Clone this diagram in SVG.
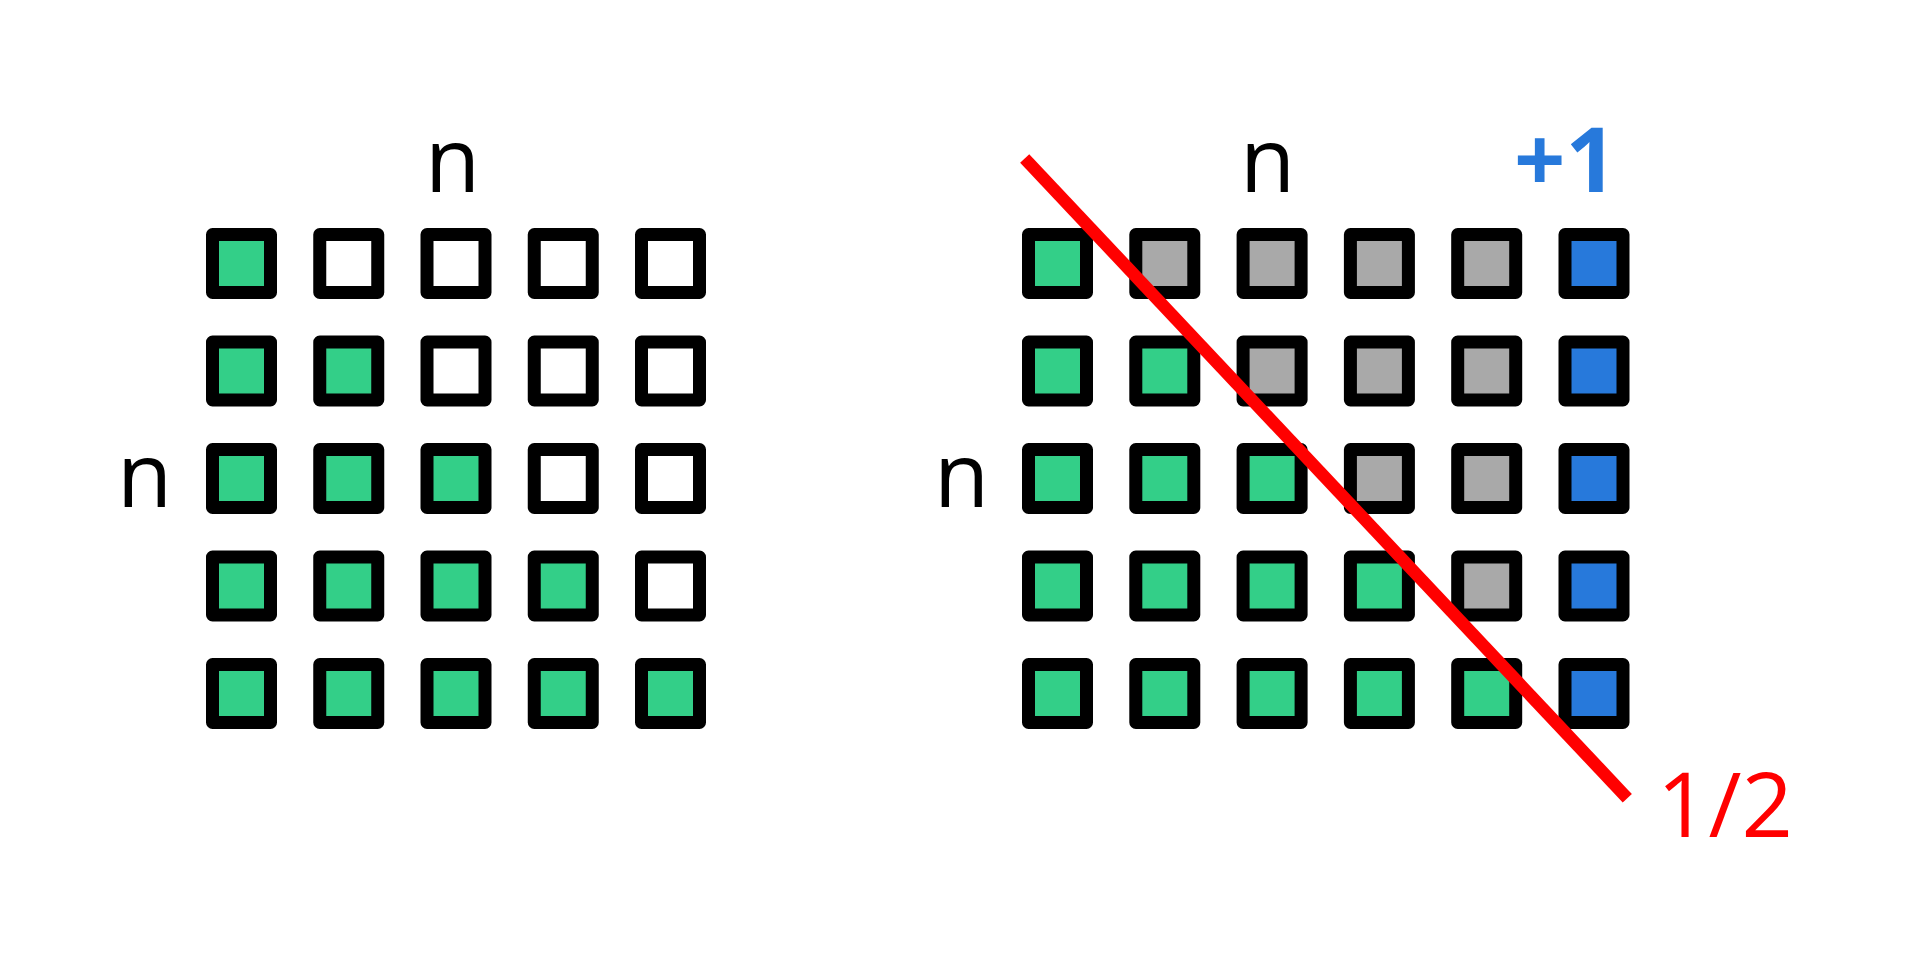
<svg xmlns="http://www.w3.org/2000/svg" width="1920" height="972" viewBox="0 0 1920 972">
<style>
.b{stroke:#000;stroke-width:13;stroke-linejoin:round}
.g{fill:#33cf88}.w{fill:#fff}.s{fill:#a9a9a9}.u{fill:#2779db}
.t{font-family:"Open Sans","DejaVu Sans",sans-serif;font-size:90px}
</style>
<rect width="1920" height="972" fill="#fff"/>
<g id="left-grid">
<g id="L00"><rect class="b g" x="212.5" y="234.5" width="58" height="58"/></g>
<g id="L01"><rect class="b w" x="319.75" y="234.5" width="58" height="58"/></g>
<g id="L02"><rect class="b w" x="427" y="234.5" width="58" height="58"/></g>
<g id="L03"><rect class="b w" x="534.25" y="234.5" width="58" height="58"/></g>
<g id="L04"><rect class="b w" x="641.5" y="234.5" width="58" height="58"/></g>
<g id="L10"><rect class="b g" x="212.5" y="342" width="58" height="58"/></g>
<g id="L11"><rect class="b g" x="319.75" y="342" width="58" height="58"/></g>
<g id="L12"><rect class="b w" x="427" y="342" width="58" height="58"/></g>
<g id="L13"><rect class="b w" x="534.25" y="342" width="58" height="58"/></g>
<g id="L14"><rect class="b w" x="641.5" y="342" width="58" height="58"/></g>
<g id="L20"><rect class="b g" x="212.5" y="449.5" width="58" height="58"/></g>
<g id="L21"><rect class="b g" x="319.75" y="449.5" width="58" height="58"/></g>
<g id="L22"><rect class="b g" x="427" y="449.5" width="58" height="58"/></g>
<g id="L23"><rect class="b w" x="534.25" y="449.5" width="58" height="58"/></g>
<g id="L24"><rect class="b w" x="641.5" y="449.5" width="58" height="58"/></g>
<g id="L30"><rect class="b g" x="212.5" y="557" width="58" height="58"/></g>
<g id="L31"><rect class="b g" x="319.75" y="557" width="58" height="58"/></g>
<g id="L32"><rect class="b g" x="427" y="557" width="58" height="58"/></g>
<g id="L33"><rect class="b g" x="534.25" y="557" width="58" height="58"/></g>
<g id="L34"><rect class="b w" x="641.5" y="557" width="58" height="58"/></g>
<g id="L40"><rect class="b g" x="212.5" y="664.5" width="58" height="58"/></g>
<g id="L41"><rect class="b g" x="319.75" y="664.5" width="58" height="58"/></g>
<g id="L42"><rect class="b g" x="427" y="664.5" width="58" height="58"/></g>
<g id="L43"><rect class="b g" x="534.25" y="664.5" width="58" height="58"/></g>
<g id="L44"><rect class="b g" x="641.5" y="664.5" width="58" height="58"/></g>
</g>
<g id="right-grid">
<g id="R00"><rect class="b g" x="1028.5" y="234.5" width="58" height="58"/></g>
<g id="R01"><rect class="b s" x="1135.8" y="234.5" width="58" height="58"/></g>
<g id="R02"><rect class="b s" x="1243.1" y="234.5" width="58" height="58"/></g>
<g id="R03"><rect class="b s" x="1350.4" y="234.5" width="58" height="58"/></g>
<g id="R04"><rect class="b s" x="1457.7" y="234.5" width="58" height="58"/></g>
<g id="R05"><rect class="b u" x="1565" y="234.5" width="58" height="58"/></g>
<g id="R10"><rect class="b g" x="1028.5" y="342" width="58" height="58"/></g>
<g id="R11"><rect class="b g" x="1135.8" y="342" width="58" height="58"/></g>
<g id="R12"><rect class="b s" x="1243.1" y="342" width="58" height="58"/></g>
<g id="R13"><rect class="b s" x="1350.4" y="342" width="58" height="58"/></g>
<g id="R14"><rect class="b s" x="1457.7" y="342" width="58" height="58"/></g>
<g id="R15"><rect class="b u" x="1565" y="342" width="58" height="58"/></g>
<g id="R20"><rect class="b g" x="1028.5" y="449.5" width="58" height="58"/></g>
<g id="R21"><rect class="b g" x="1135.8" y="449.5" width="58" height="58"/></g>
<g id="R22"><rect class="b g" x="1243.1" y="449.5" width="58" height="58"/></g>
<g id="R23"><rect class="b s" x="1350.4" y="449.5" width="58" height="58"/></g>
<g id="R24"><rect class="b s" x="1457.7" y="449.5" width="58" height="58"/></g>
<g id="R25"><rect class="b u" x="1565" y="449.5" width="58" height="58"/></g>
<g id="R30"><rect class="b g" x="1028.5" y="557" width="58" height="58"/></g>
<g id="R31"><rect class="b g" x="1135.8" y="557" width="58" height="58"/></g>
<g id="R32"><rect class="b g" x="1243.1" y="557" width="58" height="58"/></g>
<g id="R33"><rect class="b g" x="1350.4" y="557" width="58" height="58"/></g>
<g id="R34"><rect class="b s" x="1457.7" y="557" width="58" height="58"/></g>
<g id="R35"><rect class="b u" x="1565" y="557" width="58" height="58"/></g>
<g id="R40"><rect class="b g" x="1028.5" y="664.5" width="58" height="58"/></g>
<g id="R41"><rect class="b g" x="1135.8" y="664.5" width="58" height="58"/></g>
<g id="R42"><rect class="b g" x="1243.1" y="664.5" width="58" height="58"/></g>
<g id="R43"><rect class="b g" x="1350.4" y="664.5" width="58" height="58"/></g>
<g id="R44"><rect class="b g" x="1457.7" y="664.5" width="58" height="58"/></g>
<g id="R45"><rect class="b u" x="1565" y="664.5" width="58" height="58"/></g>
</g>
<g id="labels">
<text class="t" x="425" y="192">n</text>
<text class="t" x="117" y="507">n</text>
<text class="t" x="1240" y="192">n</text>
<text class="t" x="934" y="507">n</text>
<text class="t" x="1514" y="192" fill="#2779db" font-weight="bold">+1</text>
<text class="t" x="1657" y="836.5" fill="#ff0000">1/2</text>
</g>
<g id="connectors">
<line x1="1024.7" y1="158.5" x2="1627.3" y2="798.2" stroke="#ff0000" stroke-width="12.5"/>
</g>
</svg>
